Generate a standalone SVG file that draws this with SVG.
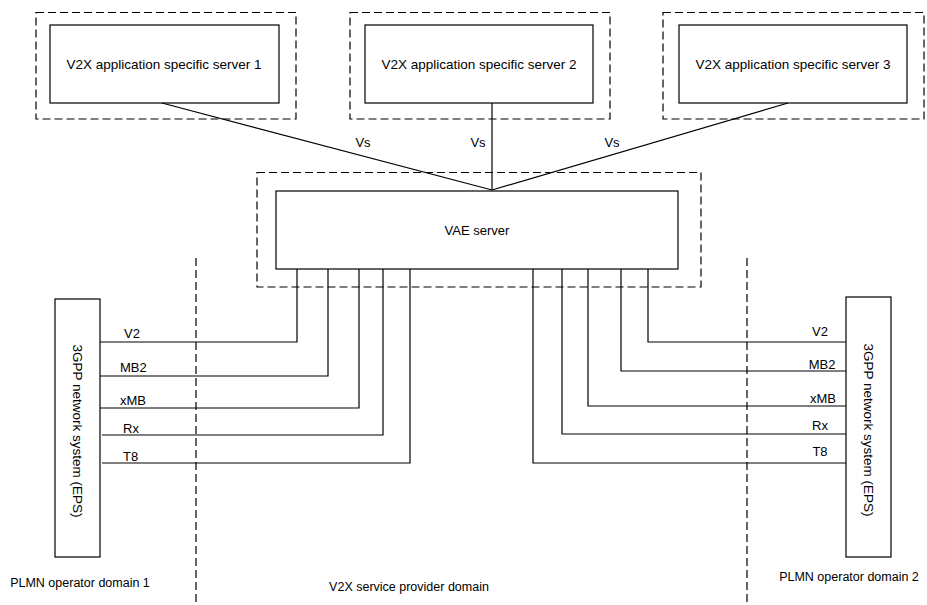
<svg xmlns="http://www.w3.org/2000/svg" width="927" height="605" viewBox="0 0 927 605">
  <style>
    .box { fill: #fff; stroke: #000; stroke-width: 1.2; }
    .dash { fill: none; stroke: #000; stroke-width: 1.2; stroke-dasharray: 8 4; }
    .line { fill: none; stroke: #000; stroke-width: 1.2; }
    text { font-family: "Liberation Sans", Arial, sans-serif; font-size: 13px; fill: #000; }
    .mid { text-anchor: middle; }
    .srv { font-size: 13.5px; }
    .eps { font-size: 13.5px; }
    .dom { font-size: 12.5px; }
  </style>
  <rect width="927" height="605" fill="#fff"/>

  <!-- Domain boundaries -->
  <g id="domain-boundaries">
    <line class="dash" x1="196" y1="258" x2="196" y2="605"/>
    <line class="dash" x1="747" y1="258" x2="747" y2="605"/>
  </g>

  <!-- Application servers -->
  <g id="server1">
    <rect class="dash" x="36" y="12.5" width="260" height="106.5"/>
    <rect class="box" x="50" y="25" width="229" height="78"/>
    <text class="mid srv" x="164" y="69">V2X application specific server 1</text>
  </g>
  <g id="server2">
    <rect class="dash" x="350" y="12.5" width="260" height="106.5"/>
    <rect class="box" x="365" y="25" width="228" height="78"/>
    <text class="mid srv" x="479" y="69">V2X application specific server 2</text>
  </g>
  <g id="server3">
    <rect class="dash" x="663" y="12.5" width="261" height="106.5"/>
    <rect class="box" x="679" y="25" width="228" height="78"/>
    <text class="mid srv" x="793" y="69">V2X application specific server 3</text>
  </g>

  <!-- VAE server -->
  <g id="vae-server">
    <rect class="dash" x="257" y="172.5" width="444" height="114.5"/>
    <rect class="box" x="276" y="191" width="402" height="78"/>
    <text class="mid" x="477" y="235">VAE server</text>
  </g>

  <!-- 3GPP network systems -->
  <g id="eps1">
    <rect class="box" x="55" y="299" width="45" height="258"/>
    <text class="mid eps" transform="translate(73,431) rotate(90)">3GPP network system (EPS)</text>
  </g>
  <g id="eps2">
    <rect class="box" x="846" y="297" width="45" height="260"/>
    <text class="mid eps" transform="translate(864,430) rotate(90)">3GPP network system (EPS)</text>
  </g>

  <!-- Connectors -->
  <g id="connectors">
    <!-- Vs reference points -->
    <polyline class="line" points="162,103 492,190"/>
    <polyline class="line" points="492,103 492,190"/>
    <polyline class="line" points="788,103 492,190"/>

    <!-- PLMN operator domain 1 -->
    <polyline class="line" points="100,342 297,342 297,269"/>
    <polyline class="line" points="100,376 328,376 328,269"/>
    <polyline class="line" points="100,408 359,408 359,269"/>
    <polyline class="line" points="102,435 383,435 383,269"/>
    <polyline class="line" points="102,463 410,463 410,269"/>

    <!-- PLMN operator domain 2 -->
    <polyline class="line" points="846,342 648,342 648,269"/>
    <polyline class="line" points="846,371 621,371 621,269"/>
    <polyline class="line" points="846,406 588,406 588,269"/>
    <polyline class="line" points="846,434 562,434 562,269"/>
    <polyline class="line" points="846,463 533,463 533,269"/>
  </g>

  <!-- Reference point labels -->
  <g id="labels">
    <text class="mid" x="363" y="147">Vs</text>
    <text class="mid" x="478" y="147">Vs</text>
    <text class="mid" x="612" y="147">Vs</text>

    <text x="124" y="338">V2</text>
    <text x="120" y="372">MB2</text>
    <text x="120" y="405">xMB</text>
    <text x="123" y="433">Rx</text>
    <text x="123" y="461">T8</text>

    <text class="mid" x="820" y="336">V2</text>
    <text class="mid" x="822" y="369">MB2</text>
    <text class="mid" x="823" y="403">xMB</text>
    <text class="mid" x="820" y="430">Rx</text>
    <text class="mid" x="820" y="456">T8</text>

    <text class="mid dom" x="80" y="587">PLMN operator domain 1</text>
    <text class="mid dom" x="409" y="591">V2X service provider domain</text>
    <text class="mid dom" x="849" y="581">PLMN operator domain 2</text>
  </g>
</svg>
